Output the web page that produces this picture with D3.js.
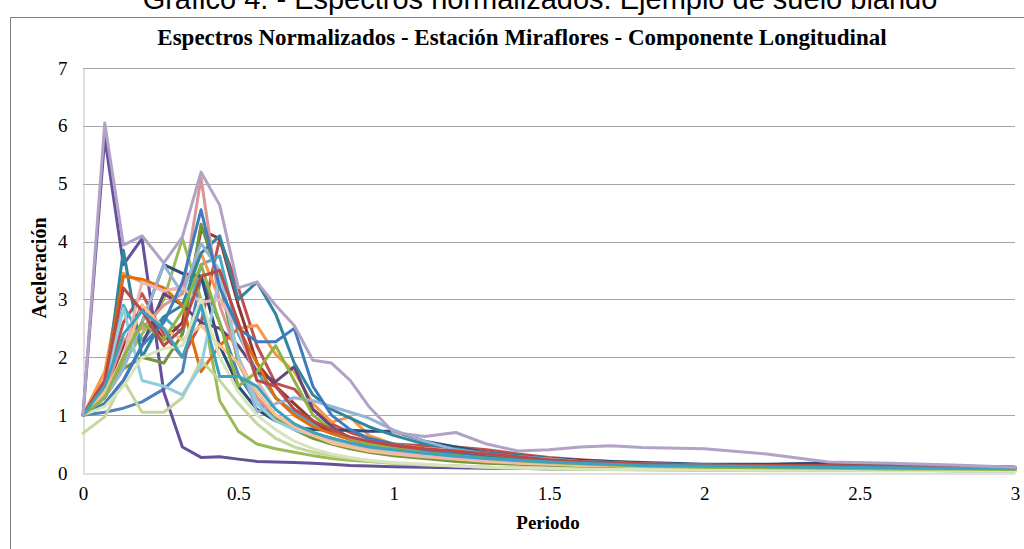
<!DOCTYPE html>
<html>
<head>
<meta charset="utf-8">
<script src="https://cdn.jsdelivr.net/npm/d3@7"></script>
<style>
  html, body { margin: 0; padding: 0; background: #fff; }
  svg { display: block; }
</style>
</head>
<body>
<svg id="chart" width="1024" height="549"></svg>
<script>
// Periods (s) at which every normalized spectrum is sampled
const periods = [0, 0.07, 0.13, 0.19, 0.26, 0.32, 0.38, 0.44, 0.5, 0.56, 0.62, 0.68, 0.74, 0.8, 0.86, 0.92,
  1.0, 1.1, 1.2, 1.3, 1.4, 1.5, 1.6, 1.7, 1.8, 2.0, 2.2, 2.4, 2.6, 2.8, 3.0];

// Normalized spectral accelerations, one array per record
const rec01 = [1.0, 1.05, 1.12, 1.23, 1.45, 1.75, 3.4, 2.6, 1.7, 1.2, 0.95, 0.8, 0.68, 0.6, 0.52, 0.46, 0.4, 0.33, 0.27, 0.22, 0.2, 0.18, 0.16, 0.15, 0.14, 0.13, 0.14, 0.18, 0.15, 0.12, 0.1];
const rec02 = [1.0, 1.5, 2.6, 3.1, 2.4, 2.0, 2.6, 4.05, 3.2, 2.2, 1.55, 1.45, 1.1, 0.85, 0.7, 0.6, 0.5, 0.47, 0.45, 0.4, 0.33, 0.27, 0.23, 0.2, 0.17, 0.14, 0.12, 0.12, 0.11, 0.1, 0.09];
const rec03 = [1.0, 1.3, 1.9, 2.4, 3.0, 4.05, 3.0, 1.25, 0.72, 0.5, 0.42, 0.36, 0.3, 0.25, 0.22, 0.2, 0.17, 0.14, 0.12, 0.1, 0.09, 0.08, 0.07, 0.07, 0.06, 0.06, 0.05, 0.05, 0.05, 0.05, 0.05];
const rec04 = [1.0, 5.8, 3.6, 4.05, 1.4, 0.45, 0.27, 0.28, 0.24, 0.2, 0.19, 0.18, 0.17, 0.15, 0.13, 0.12, 0.11, 0.1, 0.09, 0.08, 0.08, 0.07, 0.07, 0.06, 0.06, 0.05, 0.05, 0.05, 0.05, 0.04, 0.04];
const rec05 = [1.0, 1.6, 2.9, 2.3, 2.7, 2.4, 3.6, 3.75, 2.4, 1.75, 1.3, 1.05, 0.85, 0.72, 0.62, 0.55, 0.48, 0.4, 0.34, 0.3, 0.26, 0.22, 0.2, 0.18, 0.16, 0.14, 0.12, 0.11, 0.1, 0.09, 0.09];
const rec06 = [1.0, 1.75, 3.45, 3.3, 3.15, 3.2, 3.8, 3.0, 2.5, 2.55, 2.05, 1.75, 1.2, 0.88, 0.97, 0.65, 0.5, 0.42, 0.36, 0.3, 0.26, 0.22, 0.2, 0.18, 0.16, 0.13, 0.12, 0.1, 0.1, 0.09, 0.08];
const rec07 = [1.0, 1.3, 2.0, 2.6, 3.6, 3.45, 3.4, 2.2, 1.5, 1.1, 0.9, 0.8, 0.75, 0.74, 0.74, 0.72, 0.72, 0.55, 0.45, 0.35, 0.3, 0.25, 0.22, 0.2, 0.18, 0.15, 0.15, 0.17, 0.14, 0.12, 0.1];
const rec08 = [1.0, 1.4, 2.2, 2.9, 2.3, 2.6, 4.2, 4.05, 2.9, 1.9, 1.5, 1.2, 0.9, 0.7, 0.6, 0.5, 0.45, 0.4, 0.35, 0.3, 0.26, 0.22, 0.19, 0.17, 0.15, 0.13, 0.11, 0.1, 0.1, 0.09, 0.08];
const rec09 = [1.0, 1.3, 1.8, 2.0, 1.9, 2.4, 4.3, 3.3, 1.9, 1.3, 0.95, 0.75, 0.6, 0.5, 0.42, 0.36, 0.3, 0.25, 0.2, 0.17, 0.15, 0.13, 0.11, 0.1, 0.09, 0.08, 0.07, 0.07, 0.06, 0.06, 0.05];
const rec10 = [1.0, 1.2, 1.6, 2.2, 3.1, 2.9, 2.6, 2.5, 2.2, 1.75, 1.58, 1.84, 1.1, 0.8, 0.6, 0.5, 0.42, 0.35, 0.3, 0.25, 0.22, 0.19, 0.16, 0.14, 0.12, 0.1, 0.09, 0.08, 0.08, 0.07, 0.07];
const rec11 = [1.0, 1.4, 3.85, 2.0, 2.7, 2.9, 3.8, 4.1, 3.0, 3.3, 2.75, 1.9, 1.35, 1.1, 0.95, 0.8, 0.65, 0.5, 0.42, 0.35, 0.3, 0.25, 0.2, 0.17, 0.15, 0.13, 0.12, 0.11, 0.1, 0.09, 0.08];
const rec12 = [1.0, 1.6, 3.4, 3.35, 3.2, 2.9, 1.75, 2.2, 2.5, 1.9, 1.3, 1.0, 0.8, 0.68, 0.58, 0.5, 0.43, 0.37, 0.3, 0.25, 0.22, 0.19, 0.17, 0.15, 0.13, 0.11, 0.1, 0.09, 0.08, 0.08, 0.07];
const rec13 = [1.0, 1.3, 1.8, 2.6, 3.6, 3.1, 3.97, 3.5, 2.0, 1.05, 1.2, 1.3, 1.25, 1.15, 1.05, 0.95, 0.74, 0.55, 0.4, 0.33, 0.28, 0.24, 0.2, 0.18, 0.16, 0.14, 0.12, 0.11, 0.1, 0.09, 0.08];
const rec14 = [1.0, 1.4, 2.3, 2.5, 2.9, 3.1, 5.1, 2.9, 2.0, 1.3, 1.0, 0.8, 0.65, 0.55, 0.46, 0.4, 0.35, 0.3, 0.26, 0.22, 0.2, 0.17, 0.15, 0.14, 0.13, 0.12, 0.11, 0.1, 0.1, 0.09, 0.08];
const rec15 = [0.69, 0.97, 1.6, 1.05, 1.05, 1.3, 1.95, 1.6, 1.2, 0.85, 0.6, 0.45, 0.36, 0.3, 0.25, 0.21, 0.17, 0.14, 0.12, 0.1, 0.08, 0.07, 0.06, 0.06, 0.05, 0.05, 0.04, 0.04, 0.04, 0.04, 0.04];
const rec16 = [1.0, 1.5, 2.85, 1.6, 1.5, 1.35, 1.85, 3.4, 2.0, 1.2, 0.9, 0.75, 0.65, 0.55, 0.5, 0.45, 0.4, 0.34, 0.28, 0.24, 0.2, 0.18, 0.16, 0.14, 0.13, 0.11, 0.1, 0.09, 0.08, 0.08, 0.07];
const rec17 = [1.0, 1.4, 2.0, 2.9, 2.5, 2.3, 2.55, 2.2, 1.9, 1.4, 1.0, 0.8, 0.65, 0.52, 0.45, 0.38, 0.33, 0.28, 0.24, 0.2, 0.17, 0.15, 0.13, 0.12, 0.11, 0.1, 0.09, 0.08, 0.08, 0.07, 0.07];
const rec18 = [1.0, 1.3, 2.0, 3.3, 3.15, 3.2, 2.95, 3.0, 2.5, 1.6, 1.1, 0.85, 0.7, 0.58, 0.5, 0.43, 0.36, 0.3, 0.26, 0.22, 0.19, 0.17, 0.15, 0.14, 0.13, 0.12, 0.1, 0.09, 0.09, 0.08, 0.08];
const rec19 = [1.0, 1.2, 1.6, 2.2, 2.6, 3.3, 4.55, 3.2, 2.5, 2.27, 2.27, 2.5, 1.5, 1.0, 0.75, 0.6, 0.5, 0.4, 0.33, 0.27, 0.23, 0.2, 0.17, 0.15, 0.13, 0.11, 0.1, 0.09, 0.09, 0.08, 0.07];
const rec20 = [1.0, 1.15, 1.5, 2.0, 2.15, 2.2, 3.0, 2.0, 1.4, 1.0, 0.75, 0.55, 0.42, 0.33, 0.27, 0.22, 0.18, 0.15, 0.12, 0.1, 0.09, 0.08, 0.07, 0.06, 0.06, 0.05, 0.05, 0.05, 0.04, 0.04, 0.04];
const rec21 = [1.0, 1.3, 2.0, 2.6, 2.3, 2.8, 3.6, 2.6, 1.5, 1.75, 2.2, 1.6, 1.0, 0.75, 0.6, 0.5, 0.42, 0.35, 0.3, 0.25, 0.21, 0.18, 0.16, 0.14, 0.12, 0.1, 0.09, 0.08, 0.07, 0.07, 0.06];
const rec22 = [1.0, 1.6, 3.2, 2.8, 2.2, 2.5, 3.4, 3.5, 2.6, 1.6, 1.5, 1.1, 0.9, 0.75, 0.62, 0.55, 0.48, 0.42, 0.38, 0.33, 0.28, 0.23, 0.2, 0.18, 0.16, 0.14, 0.13, 0.13, 0.12, 0.11, 0.1];
const rec23 = [1.0, 1.5, 2.4, 2.8, 2.5, 2.0, 2.9, 1.67, 1.67, 1.5, 1.1, 0.85, 0.7, 0.6, 0.52, 0.45, 0.4, 0.34, 0.29, 0.25, 0.22, 0.19, 0.17, 0.15, 0.13, 0.12, 0.11, 0.1, 0.09, 0.08, 0.08];
const rec24 = [1.0, 6.05, 3.94, 4.1, 3.63, 4.08, 5.2, 4.63, 3.2, 3.3, 2.9, 2.55, 1.95, 1.9, 1.6, 1.15, 0.7, 0.63, 0.7, 0.5, 0.38, 0.4, 0.45, 0.47, 0.44, 0.42, 0.33, 0.19, 0.17, 0.14, 0.1];

const records = [rec01, rec02, rec03, rec04, rec05, rec06, rec07, rec08, rec09, rec10, rec11, rec12,
  rec13, rec14, rec15, rec16, rec17, rec18, rec19, rec20, rec21, rec22, rec23, rec24];
const colors = ["#4F81BD", "#C0504D", "#9BBB59", "#66509A", "#4BACC6", "#F79646", "#2C4D75", "#943634",
  "#77933C", "#5F497A", "#31859C", "#E46C0A", "#95B3D7", "#D99694", "#C3D69B", "#93CDDD",
  "#FAC090", "#E6B9B8", "#3E7BBF", "#D7E4BD", "#8DB543", "#B94A48", "#3BA3C0", "#B3A2C7"];

const xTicks = [0, 0.5, 1, 1.5, 2, 2.5, 3];
const yTicks = [0, 1, 2, 3, 4, 5, 6, 7];

const svg = d3.select("#chart");
const W = 1024, H = 549;
const m = { left: 83, right: 1015, top: 68, bottom: 473 };
const serif = "Liberation Serif, Times New Roman, serif";

// Caption above the chart frame (its upper half runs past the page top)
svg.append("text")
  .attr("x", 540).attr("y", 9)
  .attr("text-anchor", "middle")
  .attr("font-family", "Liberation Sans, Arial, sans-serif")
  .attr("font-size", 29)
  .attr("fill", "#000")
  .text("Gráfico 4. - Espectros normalizados: Ejemplo de suelo blando");

// Chart frame
svg.append("path")
  .attr("d", `M10.5,${H} V17.5 H${W}`)
  .attr("fill", "none").attr("stroke", "#7f7f7f").attr("stroke-width", 1);

const x = d3.scaleLinear().domain([0, 3]).range([m.left, m.right]);
const y = d3.scaleLinear().domain([0, 7]).range([m.bottom, m.top]);

// Horizontal gridlines
svg.append("g")
  .selectAll("line")
  .data(yTicks.filter(v => v > 0))
  .join("line")
  .attr("x1", m.left).attr("x2", m.right)
  .attr("y1", d => Math.round(y(d)) + 0.5).attr("y2", d => Math.round(y(d)) + 0.5)
  .attr("stroke", "#a6a6a6").attr("stroke-width", 1);

// Axes
const yAxis = d3.axisLeft(y).tickValues(yTicks).tickSize(0).tickPadding(16).tickFormat(d3.format("d"));
const xAxis = d3.axisBottom(x).tickValues(xTicks).tickSize(0).tickPadding(13).tickFormat(d => String(d));

const gy = svg.append("g").attr("transform", `translate(${m.left + 0.5},0)`).call(yAxis);
const gx = svg.append("g").attr("transform", `translate(0,${m.bottom + 0.5})`).call(xAxis);
[gx, gy].forEach(g => {
  g.select(".domain").attr("stroke", "#bfbfbf").attr("stroke-width", 1);
  g.selectAll("text")
    .attr("font-family", serif)
    .attr("font-size", 19)
    .attr("fill", "#000");
});

// Spectra
const line = d3.line()
  .x((d, i) => x(periods[i]))
  .y(d => y(d));

svg.append("g")
  .selectAll("path")
  .data(records)
  .join("path")
  .attr("d", d => line(d))
  .attr("fill", "none")
  .attr("stroke", (d, i) => colors[i])
  .attr("stroke-width", 3)
  .attr("stroke-linejoin", "round")
  .attr("stroke-linecap", "round");

// Titles
svg.append("text")
  .attr("x", 522).attr("y", 45)
  .attr("text-anchor", "middle")
  .attr("font-family", serif)
  .attr("font-weight", "bold")
  .attr("font-size", 23)
  .text("Espectros Normalizados - Estación Miraflores - Componente Longitudinal");

svg.append("text")
  .attr("x", 548).attr("y", 529)
  .attr("text-anchor", "middle")
  .attr("font-family", serif)
  .attr("font-weight", "bold")
  .attr("font-size", 19)
  .text("Periodo");

svg.append("text")
  .attr("transform", "translate(46,268) rotate(-90)")
  .attr("text-anchor", "middle")
  .attr("font-family", serif)
  .attr("font-weight", "bold")
  .attr("font-size", 20)
  .text("Aceleración");
</script>
</body>
</html>
